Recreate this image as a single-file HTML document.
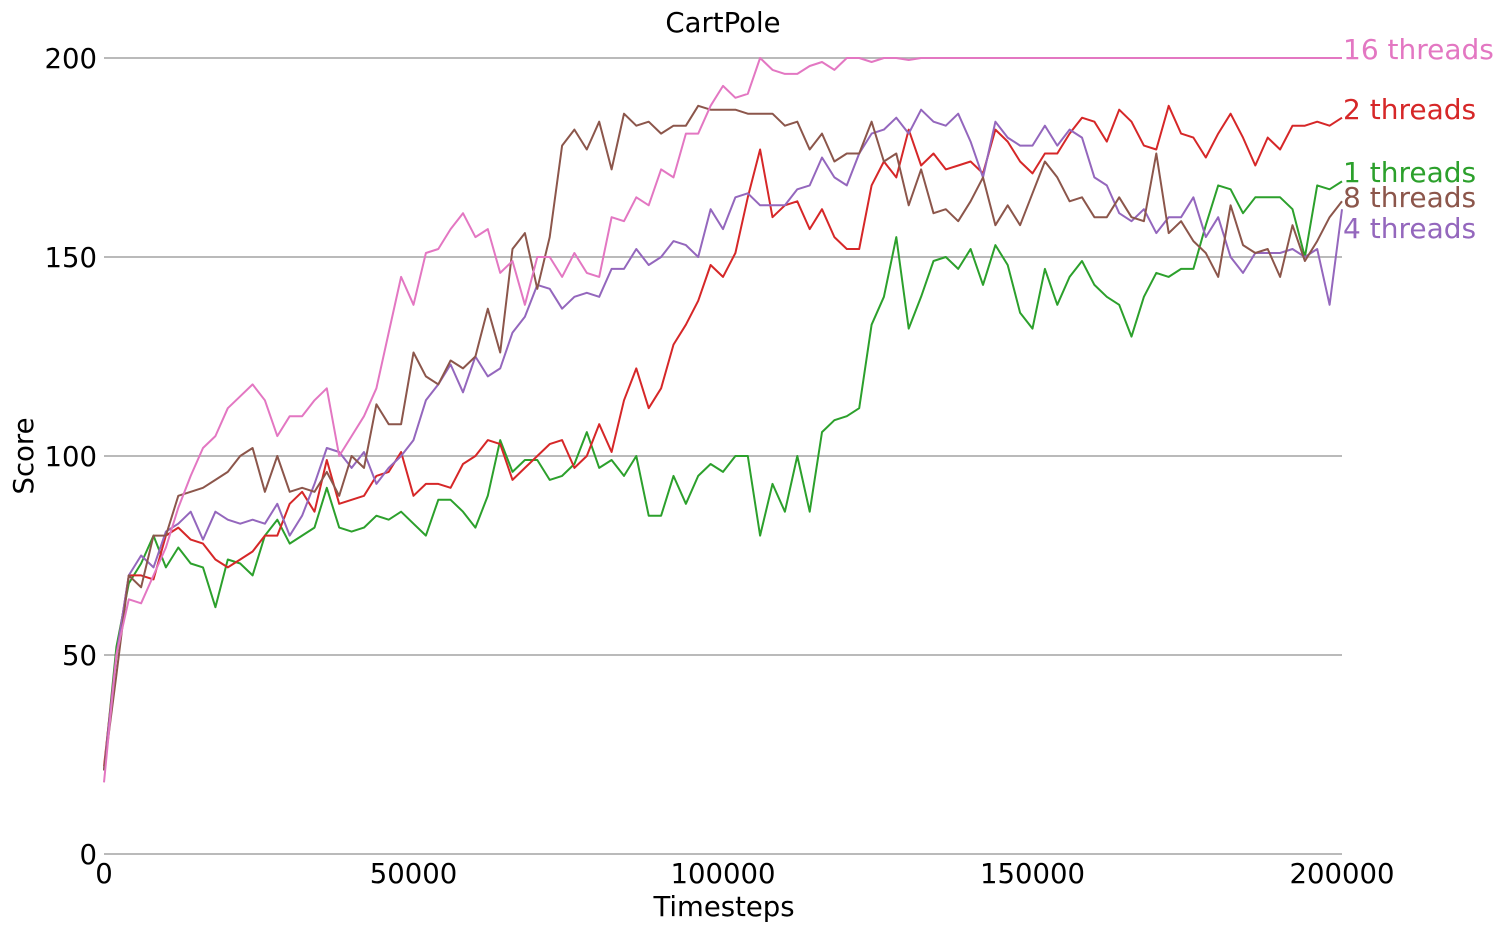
<!DOCTYPE html>
<html><head><meta charset="utf-8"><style>
html,body{margin:0;padding:0;background:#fff;}
svg{display:block;font-family:"DejaVu Sans","Liberation Sans",sans-serif;}
</style></head><body>
<svg id="chart" width="1503" height="933" viewBox="0 0 1503 933" xmlns="http://www.w3.org/2000/svg">
<text x="723" y="32" text-anchor="middle" font-size="27.5" fill="#000">CartPole</text>
<g id="grid"></g>
<g id="yticks"></g>
<g id="xticks"></g>
<g id="lines"></g>
<g id="labels"></g>
<text x="724" y="916" text-anchor="middle" font-size="27.5" fill="#000">Timesteps</text>
<text x="0" y="0" transform="translate(33,456) rotate(-90)" text-anchor="middle" font-size="27.5" fill="#000">Score</text>
</svg>
<script>
const xTicks = [0, 50000, 100000, 150000, 200000];
const yTicks = [0, 50, 100, 150, 200];
const seriesNames = ["16 threads", "2 threads", "1 threads", "8 threads", "4 threads"];
const stepSize = 2000;
const pink16 = [18,50,64,63,70,77,87,95,102,105,112,115,118,114,105,110,110,114,117,100,105,110,117,131,145,138,151,152,157,161,155,157,146,149,138,150,150,145,151,146,145,160,159,165,163,172,170,181,181,188,193,190,191,200,197,196,196,198,199,197,200,200,199,200,200,199.5,200,200,200,200,200,200,200,200,200,200,200,200,200,200,200,200,200,200,200,200,200,200,200,200,200,200,200,200,200,200,200,200,200,200,200];
const red2 = [22,50,70,70,69,80,82,79,78,74,72,74,76,80,80,88,91,86,99,88,89,90,95,96,101,90,93,93,92,98,100,104,103,94,97,100,103,104,97,100,108,101,114,122,112,117,128,133,139,148,145,151,165,177,160,163,164,157,162,155,152,152,168,174,170,182,173,176,172,173,174,171,182,179,174,171,176,176,181,185,184,179,187,184,178,177,188,181,180,175,181,186,180,173,180,177,183,183,184,183,185];
const green1 = [21,52,68,73,80,72,77,73,72,62,74,73,70,80,84,78,80,82,92,82,81,82,85,84,86,83,80,89,89,86,82,90,104,96,99,99,94,95,98,106,97,99,95,100,85,85,95,88,95,98,96,100,100,80,93,86,100,86,106,109,110,112,133,140,155,132,140,149,150,147,152,143,153,148,136,132,147,138,145,149,143,140,138,130,140,146,145,147,147,158,168,167,161,165,165,165,162,150,168,167,169];
const brown8 = [21,45,70,67,80,80,90,91,92,94,96,100,102,91,100,91,92,91,96,90,100,97,113,108,108,126,120,118,124,122,125,137,126,152,156,142,155,178,182,177,184,172,186,183,184,181,183,183,188,187,187,187,186,186,186,183,184,177,181,174,176,176,184,174,176,163,172,161,162,159,164,170,158,163,158,166,174,170,164,165,160,160,165,160,159,176,156,159,154,151,145,163,153,151,152,145,158,149,154,160,164];
const purple4 = [21,50,70,75,72,81,83,86,79,86,84,83,84,83,88,80,85,93,102,101,97,101,93,97,100,104,114,118,123,116,125,120,122,131,135,143,142,137,140,141,140,147,147,152,148,150,154,153,150,162,157,165,166,163,163,163,167,168,175,170,168,176,181,182,185,181,187,184,183,186,179,170,184,180,178,178,183,178,182,180,170,168,161,159,162,156,160,160,165,155,160,150,146,151,151,151,152,150,152,138,162];

const NS = "http://www.w3.org/2000/svg";
const X0 = 104, X1 = 1342, Y0 = 854, Y1 = 58;
function xScale(t){ return X0 + (t/200000)*(X1-X0); }
function yScale(v){ return Y0 - (v/200)*(Y0-Y1); }

const grid = document.getElementById('grid');
const yt = document.getElementById('yticks');
const xt = document.getElementById('xticks');
yTicks.forEach(v=>{
  const l = document.createElementNS(NS,'line');
  
  
  l.setAttribute('x1',X0); l.setAttribute('x2',X1);
  l.setAttribute('y1',yScale(v)); l.setAttribute('y2',yScale(v));
  l.setAttribute('stroke','#b0b0b0'); l.setAttribute('stroke-width','1.8');
  grid.appendChild(l);
  const t = document.createElementNS(NS,'text');
  
  
  t.setAttribute('x',97); t.setAttribute('y',yScale(v)+10);
  t.setAttribute('text-anchor','end'); t.setAttribute('font-size','27.5');
  t.textContent = v;
  yt.appendChild(t);
});
xTicks.forEach(v=>{
  const t = document.createElementNS(NS,'text');
  
  
  t.setAttribute('x',xScale(v)); t.setAttribute('y',883);
  t.setAttribute('text-anchor','middle'); t.setAttribute('font-size','27.5');
  t.textContent = v;
  xt.appendChild(t);
});

const series = [
  {name: seriesNames[2], data: green1, color:'#2ca02c', ly:172},
  {name: seriesNames[1], data: red2, color:'#d62728', ly:109},
  {name: seriesNames[4], data: purple4, color:'#9467bd', ly:228},
  {name: seriesNames[3], data: brown8, color:'#8c564b', ly:197},
  {name: seriesNames[0], data: pink16, color:'#e377c2', ly:49}
];
const lines = document.getElementById('lines');
const labels = document.getElementById('labels');
series.forEach(s=>{
  const p = document.createElementNS(NS,'polyline');
  
  
  p.setAttribute('points', s.data.map((v,i)=>xScale(i*stepSize).toFixed(1)+','+yScale(v).toFixed(1)).join(' '));
  p.setAttribute('fill','none'); p.setAttribute('stroke',s.color);
  p.setAttribute('stroke-width','2'); p.setAttribute('stroke-linejoin','round');
  lines.appendChild(p);
  const t = document.createElementNS(NS,'text');
  
  
  t.setAttribute('x',1343); t.setAttribute('y',s.ly+10);
  t.setAttribute('font-size','28'); t.setAttribute('fill',s.color);
  t.textContent = s.name;
  labels.appendChild(t);
});
</script>
</body></html>
